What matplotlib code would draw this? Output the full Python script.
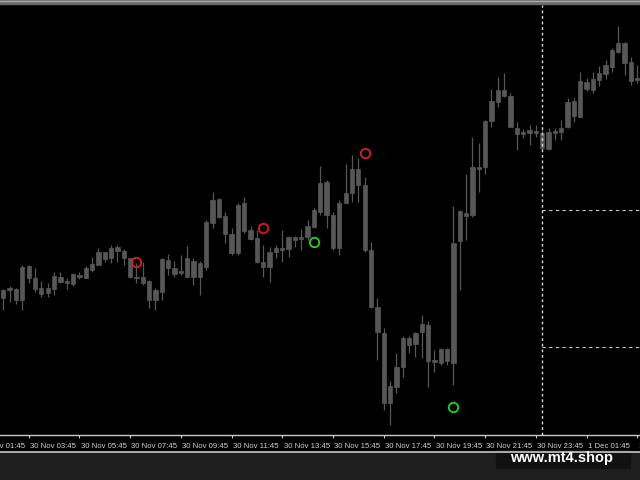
import numpy as np
import pandas as pd
import matplotlib
matplotlib.use("Agg")
import matplotlib.pyplot as plt
from matplotlib.patches import Rectangle
from matplotlib.lines import Line2D

# 15 minute candles, prices stored as points above BASE
BASE = 1.0750
POINT = 0.00002
start_time = "2023-11-30 02:45"

open_pts = [152, 162, 161, 150, 172, 172, 162, 157, 161, 173,
            167, 166, 173, 172, 180, 185, 191, 192, 203, 199,
            192, 173, 173, 169, 150, 158, 190, 182, 177, 192,
            189, 173, 183, 227, 251, 234, 197, 197, 247, 220,
            212, 183, 183, 198, 200, 201, 210, 211, 213, 223,
            238, 268, 235, 202, 247, 257, 281, 265, 200, 143,
            117, 47, 63, 83, 105, 106, 118, 125, 88, 87,
            89, 87, 209, 234, 235, 281, 283, 329, 348, 360,
            354, 322, 316, 320, 319, 317, 301, 317, 318, 323,
            334, 333, 361, 360, 370, 376, 383, 407, 407, 388,
            372]
high_pts = [161, 164, 162, 185, 185, 182, 169, 167, 178, 178,
            172, 177, 178, 184, 193, 202, 198, 205, 205, 201,
            192, 187, 188, 170, 162, 192, 196, 189, 195, 204,
            192, 189, 230, 258, 252, 238, 222, 247, 253, 224,
            220, 205, 203, 205, 220, 214, 214, 221, 230, 242,
            284, 270, 238, 250, 286, 295, 292, 273, 208, 152,
            122, 69, 97, 114, 114, 118, 135, 129, 100, 102,
            102, 244, 240, 276, 313, 307, 330, 361, 373, 377,
            357, 328, 321, 325, 325, 321, 322, 322, 330, 352,
            352, 378, 372, 378, 384, 390, 402, 424, 408, 393,
            385]
low_pts = [140, 148, 146, 140, 167, 158, 153, 153, 155, 167,
           161, 164, 171, 172, 178, 185, 188, 187, 188, 185,
           172, 167, 165, 142, 140, 150, 175, 173, 175, 173,
           165, 155, 180, 222, 232, 207, 195, 195, 217, 210,
           187, 173, 168, 192, 188, 193, 203, 200, 210, 222,
           235, 222, 200, 195, 247, 248, 248, 198, 142, 90,
           40, 25, 57, 73, 97, 93, 92, 63, 78, 85,
           85, 65, 160, 210, 233, 258, 276, 323, 343, 353,
           323, 300, 312, 305, 313, 300, 300, 310, 310, 322,
           328, 333, 359, 357, 364, 371, 378, 397, 375, 365,
           367]
close_pts = [160, 160, 150, 183, 184, 161, 156, 162, 174, 168,
             169, 176, 175, 182, 186, 198, 198, 202, 199, 192,
             173, 172, 167, 150, 160, 191, 182, 176, 179, 173,
             173, 187, 228, 250, 233, 216, 216, 245, 219, 211,
             188, 188, 198, 202, 202, 213, 213, 213, 224, 240,
             267, 235, 202, 247, 257, 281, 265, 200, 143, 118,
             47, 64, 83, 112, 112, 117, 126, 89, 90, 101,
             101, 207, 239, 237, 283, 283, 329, 349, 360, 354,
             323, 316, 318, 317, 317, 302, 318, 319, 322, 348,
             349, 369, 368, 371, 377, 385, 400, 398, 387, 369,
             370]

# signal circles (candle index, price in points)
sell_idx = [21, 41, 57]
sell_pts = [188, 222, 297]
buy_idx = [49, 71]
buy_pts = [208, 43]

# day separator and range levels
day_sep_idx = 85
level_pts = [240, 103]

o = BASE + POINT * np.array(open_pts)
h = BASE + POINT * np.array(high_pts)
l = BASE + POINT * np.array(low_pts)
c = BASE + POINT * np.array(close_pts)
n = len(o)
x = np.arange(n)
times = pd.date_range(start_time, periods=n, freq="15min")

fig = plt.figure(figsize=(6.4, 4.8), dpi=100, facecolor="black")
ax = fig.add_axes([0, 45 / 480, 1, 430 / 480])
ax.set_facecolor("black")

candle_col = "#575757"
ax.vlines(x, l, h, color=candle_col, lw=0.9, zorder=2)
ax.bar(x, np.abs(c - o), bottom=np.minimum(o, c), width=0.68,
       color=candle_col, edgecolor=candle_col, linewidth=0.5, zorder=3)

ax.plot(sell_idx, BASE + POINT * np.array(sell_pts), "o", ms=6.8,
        mfc="none", mec="#d42020", mew=1.3, zorder=5)
ax.plot(buy_idx, BASE + POINT * np.array(buy_pts), "o", ms=6.8,
        mfc="none", mec="#22d422", mew=1.3, zorder=5)

ax.axvline(day_sep_idx, color="#d8d8d8", lw=1, ls=(0, (2, 2)), zorder=4)
for lv in level_pts:
    ax.hlines(BASE + POINT * lv, day_sep_idx, n + 2, color="#c8c8c8",
              lw=0.8, ls=(0, (3, 3)), zorder=4)

ax.set_xlim(-0.52, -0.52 + 640 / 6.34)
ax.set_ylim(BASE + POINT * 15, BASE + POINT * 445)

for s in ["top", "left", "right"]:
    ax.spines[s].set_visible(False)
ax.spines["bottom"].set_color("#c8c8c8")
ax.spines["bottom"].set_linewidth(1)
ax.set_yticks([])

label_idx = list(range(-4, n, 8))
ax.set_xticks([i for i in label_idx if i >= 0])
ax.set_xticklabels([])
ax.tick_params(axis="x", colors="#c8c8c8", length=2.5, width=0.8)

t0 = times[0]
for i in label_idx:
    t = t0 + pd.Timedelta(minutes=15 * i)
    lab = f"{t.day} {t.strftime('%b %H:%M')}"
    ax.text(i + 0.2, -0.018, lab, transform=ax.get_xaxis_transform(),
            ha="left", va="top", color="#d0d0d0", fontsize=5.6,
            family=["Liberation Sans Narrow", "Liberation Sans", "DejaVu Sans"],
            clip_on=False)

# frame pieces around the chart
fig.patches.append(Rectangle((0, 476 / 480), 1, 4 / 480, transform=fig.transFigure,
                             color="#6a6a6a", zorder=0))
fig.add_artist(Line2D([0, 1], [479 / 480, 479 / 480], transform=fig.transFigure,
                      color="#a8a8a8", lw=1))
fig.patches.append(Rectangle((0, 0), 1, 28 / 480, transform=fig.transFigure,
                             color="#1e1e1e", zorder=0))
fig.add_artist(Line2D([0, 1], [28 / 480, 28 / 480], transform=fig.transFigure,
                      color="#d8d8d8", lw=1.1))
fig.add_artist(Rectangle((496 / 640, 12 / 480), 134 / 640, 18 / 480,
                         transform=fig.transFigure, color="#111111"))
fig.text(562 / 640, 22 / 480, "www.mt4.shop", color="white", fontsize=10.5,
         fontweight="bold", family="Liberation Sans", ha="center", va="center")

fig.savefig("out.png", dpi=100, facecolor="black")
